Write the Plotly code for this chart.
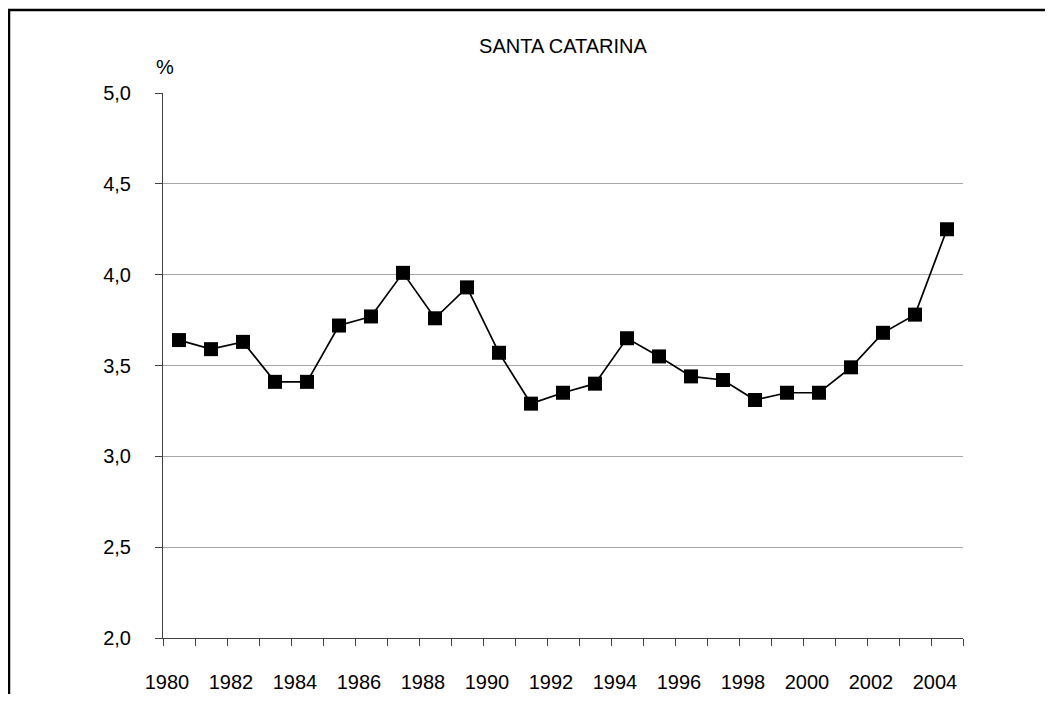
import plotly.graph_objects as go

# Data
years = list(range(1980, 2005))
values = [3.64, 3.59, 3.63, 3.41, 3.41, 3.72, 3.77, 4.01, 3.76, 3.93,
          3.57, 3.29, 3.35, 3.40, 3.65, 3.55, 3.44, 3.42, 3.31, 3.35,
          3.35, 3.49, 3.68, 3.78, 4.25]
label_years = list(range(1980, 2005, 2))
y_ticks = [2.0, 2.5, 3.0, 3.5, 4.0, 4.5, 5.0]
title_text = "SANTA CATARINA"
unit_text = "%"

# the page body adds an 8px margin on every side, so keep the figure inside the window
W, H = 1037, 686
L, T, PW, PH = 155, 85, 800, 545

fig = go.Figure()
fig.add_trace(go.Scatter(
    x=years, y=values, mode="lines+markers",
    line=dict(color="black", width=1.7),
    marker=dict(symbol="square", size=14, color="black"),
    showlegend=False,
))

fig.update_layout(
    width=W, height=H,
    margin=dict(l=L, r=W - L - PW, t=T, b=H - T - PH),
    paper_bgcolor="white", plot_bgcolor="white",
    font=dict(family="Liberation Sans, Arial, sans-serif", size=20, color="black"),
    separators=",.",
    title=dict(text=title_text, x=0.5, xref="paper", y=1 - 38 / H,
               yanchor="middle", font=dict(size=20)),
)

fig.update_xaxes(
    automargin=False,
    range=[1979.5, 2004.5],
    tickvals=label_years,
    ticktext=[str(y) for y in label_years],
    ticks="",
    ticklabelshift=-12,
    ticklabelstandoff=26,
    showgrid=False, zeroline=False,
    showline=True, linecolor="#404040", linewidth=1,
    minor=dict(tickvals=[y - 0.5 for y in years] + [2004.5],
               ticks="outside", ticklen=7, tickcolor="#404040", showgrid=False),
)

fig.update_yaxes(
    automargin=False,
    range=[2, 5],
    tickvals=y_ticks,
    tickformat=".1f",
    ticks="outside", ticklen=7, tickcolor="#404040",
    ticklabelstandoff=20,
    showgrid=True, gridcolor="#a6a6a6", gridwidth=1,
    zeroline=False,
    showline=True, linecolor="#404040", linewidth=1,
)

fig.add_annotation(text=unit_text, xref="paper", yref="paper",
                   x=2 / PW, y=(T + PH - 59) / PH,
                   xanchor="center", yanchor="middle", showarrow=False,
                   font=dict(size=20))

# outer chart frame (left and top edges visible in the reference)
fig.add_shape(type="rect", xref="paper", yref="paper",
              x0=(1 - L) / PW, x1=1.2, y0=-0.3, y1=(T + PH - 2) / PH,
              line=dict(color="black", width=2.5), layer="above")

fig.write_html("out.html")
